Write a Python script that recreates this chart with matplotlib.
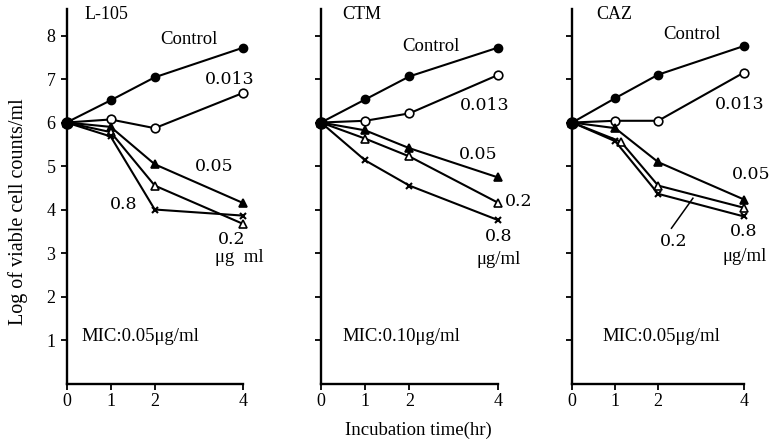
import matplotlib
matplotlib.use("Agg")
import matplotlib.pyplot as plt

# ---------------- data ----------------
times = [0, 1, 2, 4]
x_ticks = [0, 1, 2, 4]
y_ticks = [1, 2, 3, 4, 5, 6, 7, 8]
panel_names = ["L-105", "CTM", "CAZ"]
mic_labels = ["MIC:0.05μg/ml", "MIC:0.10μg/ml", "MIC:0.05μg/ml"]

l105_control = [6.0, 6.51, 7.04, 7.72]
l105_0013 = [6.0, 6.07, 5.87, 6.68]
l105_005 = [6.0, 5.90, 5.04, 4.15]
l105_02 = [6.0, 5.78, 4.55, 3.67]
l105_08 = [6.0, 5.68, 4.00, 3.86]

ctm_control = [6.0, 6.53, 7.06, 7.72]
ctm_0013 = [6.0, 6.04, 6.21, 7.09]
ctm_005 = [6.0, 5.82, 5.41, 4.74]
ctm_02 = [6.0, 5.63, 5.22, 4.16]
ctm_08 = [6.0, 5.13, 4.55, 3.76]

caz_control = [6.0, 6.56, 7.10, 7.76]
caz_0013 = [6.0, 6.04, 6.04, 7.15]
caz_005 = [6.0, 5.87, 5.09, 4.23]
caz_02_times = [0, 1.13, 2, 4]
caz_02 = [6.0, 5.56, 4.55, 4.04]
caz_08 = [6.0, 5.57, 4.36, 3.84]

# ---------------- styling ----------------
W, H = 769, 445
SERIF = ["Liberation Serif", "DejaVu Serif"]
NUMF = ["DejaVu Serif"]

fig = plt.figure(figsize=(W / 100, H / 100), dpi=100)

# axes pixel geometry: (left, right) of x=0..4, bottom/top
panels_px = [(66.5, 243.0), (321.0, 497.7), (572.3, 744.0)]
y_bottom_px, y_top_px = 383.5, 9.0
ymax = 8.61

series_styles = [
    dict(marker="o", mfc="black", ms=5.8),
    dict(marker="o", mfc="white", ms=6.2),
    dict(marker="^", mfc="black", ms=5.8),
    dict(marker="^", mfc="white", ms=5.8),
    dict(marker="x", mfc="black", ms=5, mew=1.5),
]

panel_series = [
    [(times, l105_control), (times, l105_0013), (times, l105_005), (times, l105_02), (times, l105_08)],
    [(times, ctm_control), (times, ctm_0013), (times, ctm_005), (times, ctm_02), (times, ctm_08)],
    [(times, caz_control), (times, caz_0013), (times, caz_005), (caz_02_times, caz_02), (times, caz_08)],
]

# text annotations: (text, x, y, kind)
panel_texts = [
    [("Control", 2.12, 7.90, "w"), ("0.013", 3.14, 6.98, "n"), ("0.05", 2.91, 4.98, "n"),
     ("0.8", 0.99, 4.12, "n"), ("0.2", 3.44, 3.30, "n"), ("μg  ml", 3.37, 2.89, "w")],
    [("Control", 1.83, 7.74, "w"), ("0.013", 3.14, 6.38, "n"), ("0.05", 3.12, 5.27, "n"),
     ("0.2", 4.16, 4.18, "n"), ("0.8", 3.71, 3.37, "n"), ("μg/ml", 3.53, 2.84, "w")],
    [("Control", 2.13, 8.02, "w"), ("0.013", 3.32, 6.41, "n"), ("0.05", 3.71, 4.80, "n"),
     ("0.2", 2.04, 3.26, "n"), ("0.8", 3.66, 3.49, "n"), ("μg/ml", 3.50, 2.91, "w")],
]

for i, (lpx, rpx) in enumerate(panels_px):
    ax = fig.add_axes([lpx / W, (H - y_bottom_px) / H, (rpx - lpx) / W, (y_bottom_px - y_top_px) / H])
    ax.set_xlim(0, 4)
    ax.set_ylim(0, ymax)
    for sp in ("top", "right"):
        ax.spines[sp].set_visible(False)
    for sp in ("left", "bottom"):
        ax.spines[sp].set_linewidth(1.7)
    ax.set_xticks(x_ticks)
    ax.set_xticklabels([str(t) for t in x_ticks], family=SERIF, fontsize=13)
    ax.set_yticks(y_ticks)
    if i == 0:
        ax.set_yticklabels([str(t) for t in y_ticks], family=SERIF, fontsize=13)
    else:
        ax.set_yticklabels([])
    ax.tick_params(axis="x", direction="out", length=4, width=1.3, pad=3)
    ax.tick_params(axis="y", direction="out", length=4, width=1.3, pad=4)

    for (tx, ty), st in zip(panel_series[i], series_styles):
        ax.plot(tx, ty, color="black", lw=1.5, marker=st["marker"], mfc=st["mfc"],
                mec="black", ms=st["ms"], mew=st.get("mew", 1.2), clip_on=False, zorder=3)
    # common start point
    ax.plot([times[0]], [l105_control[0]], "o", color="black", ms=8, clip_on=False, zorder=4)

    ax.text(0.40 + 0.08 * i, 8.48, panel_names[i], family=SERIF, fontsize=13, va="center", ha="left")
    ax.text(0.35 if i == 0 else (0.48 if i == 1 else 0.71), 1.08, mic_labels[i],
            family=SERIF, fontsize=13.5, va="center", ha="left")
    for txt, x, y, kind in panel_texts[i]:
        ax.text(x, y, txt, family=(SERIF if kind == "w" else NUMF),
                fontsize=(13.5 if kind == "w" else 12.5), va="center", ha="left")
    if i == 2:
        ax.plot([2.31, 2.81], [3.57, 4.26], color="black", lw=1.1, clip_on=False)

fig.text(18 / W, 1 - 212 / H, "Log of viable cell counts/ml", rotation=90,
         family=SERIF, fontsize=14.5, ha="center", va="center")
fig.text(418.5 / W, 1 - 430 / H, "Incubation time(hr)", family=SERIF, fontsize=13.5,
         ha="center", va="center")

fig.savefig("out.png", dpi=100)
